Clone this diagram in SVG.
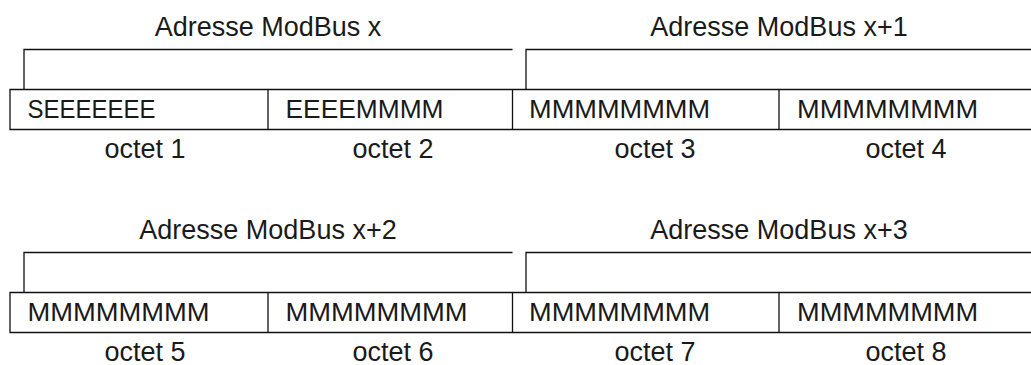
<svg xmlns="http://www.w3.org/2000/svg" width="1031" height="365" viewBox="0 0 1031 365">
<style>
.ln{fill:none;stroke:#111;stroke-width:1.3}
.t{font-family:"Liberation Sans",Arial,Helvetica,sans-serif;font-size:26px;fill:#1a1a1a}
.h{font-size:27px}
.o{font-size:27px}
.c{text-anchor:middle}
</style>
<rect width="1031" height="365" fill="#fff"/>
<g id="connectors">
<path class="ln" d="M24,89.5 V49.5 H512.5"/>
<path class="ln" d="M526,89.5 V49.5 H1031"/>
<path class="ln" d="M24,292.5 V252.5 H512.5"/>
<path class="ln" d="M526,292.5 V252.5 H1031"/>
</g>
<g id="header1"><text class="t h c" x="268" y="36">Adresse ModBus x</text></g>
<g id="header2"><text class="t h c" x="779" y="36">Adresse ModBus x+1</text></g>
<g id="header3"><text class="t h c" x="268" y="238.5">Adresse ModBus x+2</text></g>
<g id="header4"><text class="t h c" x="779" y="238.5">Adresse ModBus x+3</text></g>
<g id="row1">
<path class="ln" d="M1031,89.5 H10 V129.5 H1031 M268,89.5 V129.5 M512.5,89.5 V129.5 M779,89.5 V129.5"/>
<text class="t" x="27.5" y="118" textLength="128" lengthAdjust="spacingAndGlyphs">SEEEEEEE</text>
<text class="t" x="285.5" y="118" textLength="158" lengthAdjust="spacingAndGlyphs">EEEEMMMM</text>
<text class="t" x="529" y="118" textLength="181" lengthAdjust="spacingAndGlyphs">MMMMMMMM</text>
<text class="t" x="797" y="118" textLength="181" lengthAdjust="spacingAndGlyphs">MMMMMMMM</text>
</g>
<g id="row2">
<path class="ln" d="M1031,292.5 H10 V332.5 H1031 M268,292.5 V332.5 M512.5,292.5 V332.5 M779,292.5 V332.5"/>
<text class="t" x="27.5" y="321" textLength="182" lengthAdjust="spacingAndGlyphs">MMMMMMMM</text>
<text class="t" x="285.5" y="321" textLength="182" lengthAdjust="spacingAndGlyphs">MMMMMMMM</text>
<text class="t" x="529" y="321" textLength="181" lengthAdjust="spacingAndGlyphs">MMMMMMMM</text>
<text class="t" x="797" y="321" textLength="181" lengthAdjust="spacingAndGlyphs">MMMMMMMM</text>
</g>
<g id="octets1">
<text class="t o c" x="145" y="158">octet 1</text>
<text class="t o c" x="393" y="158">octet 2</text>
<text class="t o c" x="655" y="158">octet 3</text>
<text class="t o c" x="906" y="158">octet 4</text>
</g>
<g id="octets2">
<text class="t o c" x="145" y="360.5">octet 5</text>
<text class="t o c" x="393" y="360.5">octet 6</text>
<text class="t o c" x="655" y="360.5">octet 7</text>
<text class="t o c" x="906" y="360.5">octet 8</text>
</g>
</svg>
